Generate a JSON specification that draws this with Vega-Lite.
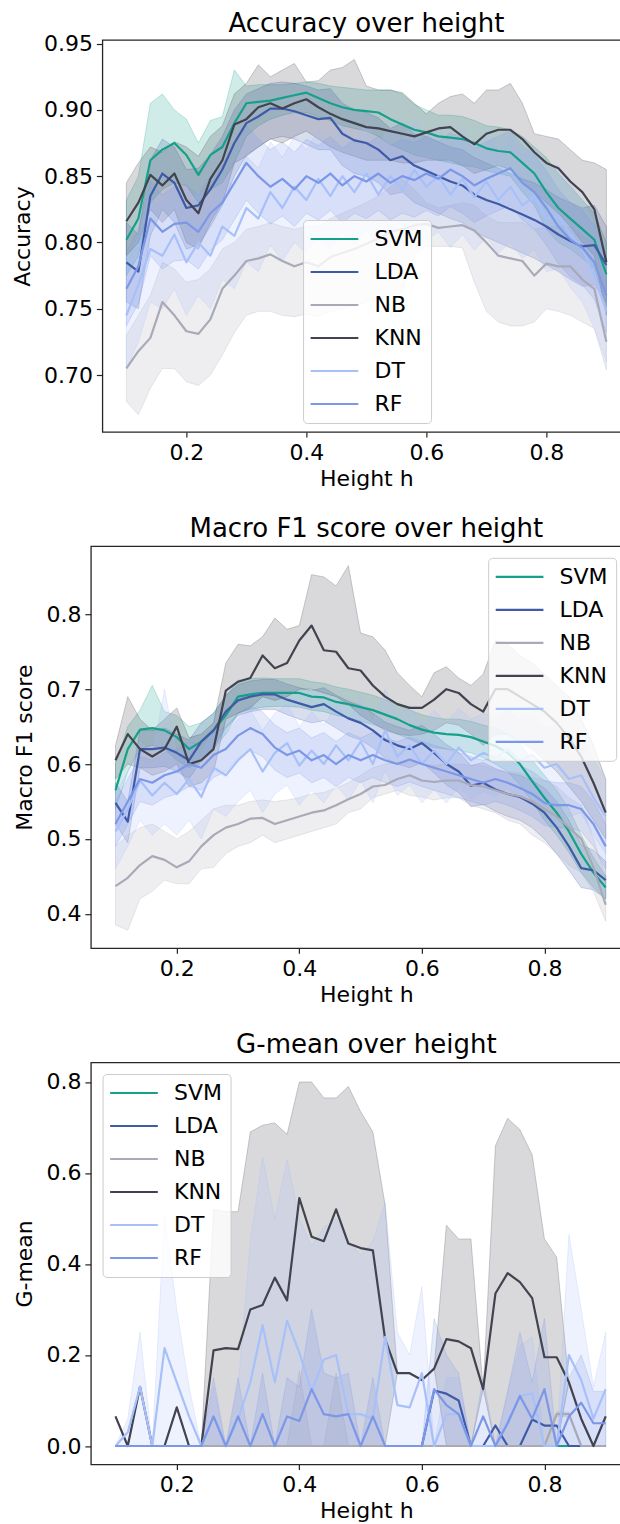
{
  "$schema": "https://vega.github.io/schema/vega-lite/v6.json",
  "background": "white",
  "padding": {"left": 10.7, "top": 10, "right": 0, "bottom": 0},
  "columns": 1,
  "center": true,
  "spacing": 24.2,
  "datasets": {
    "acc": [
      {"m":"SVM","h":0.1,"y":0.802,"l":0.775,"u":0.832},{"m":"SVM","h":0.12,"y":0.818,"l":0.790,"u":0.850},{"m":"SVM","h":0.14,"y":0.862,"l":0.830,"u":0.905},{"m":"SVM","h":0.16,"y":0.870,"l":0.840,"u":0.912},{"m":"SVM","h":0.18,"y":0.875,"l":0.845,"u":0.900},{"m":"SVM","h":0.2,"y":0.866,"l":0.843,"u":0.893},{"m":"SVM","h":0.22,"y":0.851,"l":0.830,"u":0.875},{"m":"SVM","h":0.24,"y":0.866,"l":0.840,"u":0.892},{"m":"SVM","h":0.26,"y":0.872,"l":0.845,"u":0.895},{"m":"SVM","h":0.28,"y":0.890,"l":0.860,"u":0.930},{"m":"SVM","h":0.3,"y":0.905,"l":0.880,"u":0.918},{"m":"SVM","h":0.32,"y":0.906,"l":0.888,"u":0.919},{"m":"SVM","h":0.34,"y":0.907,"l":0.893,"u":0.919},{"m":"SVM","h":0.36,"y":0.909,"l":0.896,"u":0.919},{"m":"SVM","h":0.38,"y":0.911,"l":0.898,"u":0.920},{"m":"SVM","h":0.4,"y":0.913,"l":0.898,"u":0.921},{"m":"SVM","h":0.42,"y":0.909,"l":0.895,"u":0.920},{"m":"SVM","h":0.44,"y":0.905,"l":0.892,"u":0.918},{"m":"SVM","h":0.46,"y":0.902,"l":0.888,"u":0.917},{"m":"SVM","h":0.48,"y":0.900,"l":0.886,"u":0.916},{"m":"SVM","h":0.5,"y":0.899,"l":0.884,"u":0.915},{"m":"SVM","h":0.52,"y":0.898,"l":0.880,"u":0.915},{"m":"SVM","h":0.54,"y":0.893,"l":0.874,"u":0.915},{"m":"SVM","h":0.56,"y":0.889,"l":0.870,"u":0.912},{"m":"SVM","h":0.58,"y":0.885,"l":0.866,"u":0.904},{"m":"SVM","h":0.6,"y":0.883,"l":0.864,"u":0.900},{"m":"SVM","h":0.62,"y":0.880,"l":0.862,"u":0.896},{"m":"SVM","h":0.64,"y":0.879,"l":0.860,"u":0.896},{"m":"SVM","h":0.66,"y":0.878,"l":0.858,"u":0.895},{"m":"SVM","h":0.68,"y":0.875,"l":0.857,"u":0.892},{"m":"SVM","h":0.7,"y":0.871,"l":0.854,"u":0.888},{"m":"SVM","h":0.72,"y":0.869,"l":0.852,"u":0.887},{"m":"SVM","h":0.74,"y":0.868,"l":0.850,"u":0.885},{"m":"SVM","h":0.76,"y":0.860,"l":0.838,"u":0.880},{"m":"SVM","h":0.78,"y":0.852,"l":0.828,"u":0.872},{"m":"SVM","h":0.8,"y":0.838,"l":0.810,"u":0.864},{"m":"SVM","h":0.82,"y":0.826,"l":0.800,"u":0.852},{"m":"SVM","h":0.84,"y":0.818,"l":0.795,"u":0.842},{"m":"SVM","h":0.86,"y":0.810,"l":0.788,"u":0.832},{"m":"SVM","h":0.88,"y":0.802,"l":0.780,"u":0.822},{"m":"SVM","h":0.9,"y":0.776,"l":0.752,"u":0.800},
      {"m":"LDA","h":0.1,"y":0.785,"l":0.755,"u":0.815},{"m":"LDA","h":0.12,"y":0.778,"l":0.750,"u":0.806},{"m":"LDA","h":0.14,"y":0.835,"l":0.805,"u":0.862},{"m":"LDA","h":0.16,"y":0.852,"l":0.825,"u":0.878},{"m":"LDA","h":0.18,"y":0.845,"l":0.815,"u":0.872},{"m":"LDA","h":0.2,"y":0.826,"l":0.795,"u":0.855},{"m":"LDA","h":0.22,"y":0.828,"l":0.798,"u":0.856},{"m":"LDA","h":0.24,"y":0.840,"l":0.812,"u":0.866},{"m":"LDA","h":0.26,"y":0.855,"l":0.828,"u":0.880},{"m":"LDA","h":0.28,"y":0.875,"l":0.850,"u":0.900},{"m":"LDA","h":0.3,"y":0.890,"l":0.866,"u":0.912},{"m":"LDA","h":0.32,"y":0.895,"l":0.872,"u":0.916},{"m":"LDA","h":0.34,"y":0.901,"l":0.878,"u":0.920},{"m":"LDA","h":0.36,"y":0.901,"l":0.880,"u":0.921},{"m":"LDA","h":0.38,"y":0.899,"l":0.878,"u":0.920},{"m":"LDA","h":0.4,"y":0.896,"l":0.874,"u":0.918},{"m":"LDA","h":0.42,"y":0.893,"l":0.870,"u":0.915},{"m":"LDA","h":0.44,"y":0.894,"l":0.870,"u":0.916},{"m":"LDA","h":0.46,"y":0.882,"l":0.858,"u":0.905},{"m":"LDA","h":0.48,"y":0.877,"l":0.852,"u":0.900},{"m":"LDA","h":0.5,"y":0.875,"l":0.850,"u":0.898},{"m":"LDA","h":0.52,"y":0.870,"l":0.845,"u":0.894},{"m":"LDA","h":0.54,"y":0.862,"l":0.836,"u":0.886},{"m":"LDA","h":0.56,"y":0.865,"l":0.838,"u":0.890},{"m":"LDA","h":0.58,"y":0.858,"l":0.830,"u":0.882},{"m":"LDA","h":0.6,"y":0.854,"l":0.826,"u":0.880},{"m":"LDA","h":0.62,"y":0.850,"l":0.822,"u":0.876},{"m":"LDA","h":0.64,"y":0.846,"l":0.818,"u":0.872},{"m":"LDA","h":0.66,"y":0.843,"l":0.815,"u":0.870},{"m":"LDA","h":0.68,"y":0.836,"l":0.808,"u":0.864},{"m":"LDA","h":0.7,"y":0.832,"l":0.804,"u":0.860},{"m":"LDA","h":0.72,"y":0.829,"l":0.800,"u":0.856},{"m":"LDA","h":0.74,"y":0.825,"l":0.796,"u":0.852},{"m":"LDA","h":0.76,"y":0.821,"l":0.792,"u":0.848},{"m":"LDA","h":0.78,"y":0.817,"l":0.788,"u":0.845},{"m":"LDA","h":0.8,"y":0.812,"l":0.783,"u":0.840},{"m":"LDA","h":0.82,"y":0.806,"l":0.778,"u":0.834},{"m":"LDA","h":0.84,"y":0.801,"l":0.772,"u":0.830},{"m":"LDA","h":0.86,"y":0.797,"l":0.767,"u":0.826},{"m":"LDA","h":0.88,"y":0.798,"l":0.768,"u":0.828},{"m":"LDA","h":0.9,"y":0.783,"l":0.755,"u":0.812},
      {"m":"NB","h":0.1,"y":0.705,"l":0.680,"u":0.730},{"m":"NB","h":0.12,"y":0.718,"l":0.670,"u":0.745},{"m":"NB","h":0.14,"y":0.728,"l":0.690,"u":0.760},{"m":"NB","h":0.16,"y":0.755,"l":0.705,"u":0.785},{"m":"NB","h":0.18,"y":0.745,"l":0.705,"u":0.780},{"m":"NB","h":0.2,"y":0.733,"l":0.695,"u":0.770},{"m":"NB","h":0.22,"y":0.731,"l":0.692,"u":0.772},{"m":"NB","h":0.24,"y":0.742,"l":0.700,"u":0.780},{"m":"NB","h":0.26,"y":0.765,"l":0.715,"u":0.795},{"m":"NB","h":0.28,"y":0.775,"l":0.732,"u":0.800},{"m":"NB","h":0.3,"y":0.786,"l":0.745,"u":0.810},{"m":"NB","h":0.32,"y":0.788,"l":0.748,"u":0.812},{"m":"NB","h":0.34,"y":0.791,"l":0.748,"u":0.815},{"m":"NB","h":0.36,"y":0.786,"l":0.745,"u":0.812},{"m":"NB","h":0.38,"y":0.782,"l":0.744,"u":0.810},{"m":"NB","h":0.4,"y":0.785,"l":0.746,"u":0.812},{"m":"NB","h":0.42,"y":0.782,"l":0.744,"u":0.812},{"m":"NB","h":0.44,"y":0.789,"l":0.748,"u":0.818},{"m":"NB","h":0.46,"y":0.792,"l":0.750,"u":0.822},{"m":"NB","h":0.48,"y":0.795,"l":0.752,"u":0.826},{"m":"NB","h":0.5,"y":0.799,"l":0.755,"u":0.830},{"m":"NB","h":0.52,"y":0.803,"l":0.757,"u":0.835},{"m":"NB","h":0.54,"y":0.808,"l":0.760,"u":0.842},{"m":"NB","h":0.56,"y":0.810,"l":0.762,"u":0.848},{"m":"NB","h":0.58,"y":0.813,"l":0.790,"u":0.840},{"m":"NB","h":0.6,"y":0.814,"l":0.797,"u":0.830},{"m":"NB","h":0.62,"y":0.811,"l":0.797,"u":0.826},{"m":"NB","h":0.64,"y":0.812,"l":0.797,"u":0.828},{"m":"NB","h":0.66,"y":0.813,"l":0.796,"u":0.830},{"m":"NB","h":0.68,"y":0.809,"l":0.770,"u":0.828},{"m":"NB","h":0.7,"y":0.800,"l":0.748,"u":0.820},{"m":"NB","h":0.72,"y":0.790,"l":0.740,"u":0.815},{"m":"NB","h":0.74,"y":0.788,"l":0.737,"u":0.815},{"m":"NB","h":0.76,"y":0.786,"l":0.737,"u":0.815},{"m":"NB","h":0.78,"y":0.775,"l":0.740,"u":0.810},{"m":"NB","h":0.8,"y":0.784,"l":0.750,"u":0.812},{"m":"NB","h":0.82,"y":0.782,"l":0.748,"u":0.812},{"m":"NB","h":0.84,"y":0.782,"l":0.745,"u":0.812},{"m":"NB","h":0.86,"y":0.772,"l":0.740,"u":0.805},{"m":"NB","h":0.88,"y":0.765,"l":0.735,"u":0.800},{"m":"NB","h":0.9,"y":0.725,"l":0.704,"u":0.765},
      {"m":"KNN","h":0.1,"y":0.816,"l":0.790,"u":0.845},{"m":"KNN","h":0.12,"y":0.830,"l":0.800,"u":0.860},{"m":"KNN","h":0.14,"y":0.851,"l":0.825,"u":0.872},{"m":"KNN","h":0.16,"y":0.843,"l":0.815,"u":0.868},{"m":"KNN","h":0.18,"y":0.852,"l":0.825,"u":0.876},{"m":"KNN","h":0.2,"y":0.832,"l":0.800,"u":0.872},{"m":"KNN","h":0.22,"y":0.822,"l":0.795,"u":0.865},{"m":"KNN","h":0.24,"y":0.848,"l":0.815,"u":0.880},{"m":"KNN","h":0.26,"y":0.862,"l":0.830,"u":0.888},{"m":"KNN","h":0.28,"y":0.889,"l":0.860,"u":0.912},{"m":"KNN","h":0.3,"y":0.893,"l":0.865,"u":0.920},{"m":"KNN","h":0.32,"y":0.902,"l":0.872,"u":0.934},{"m":"KNN","h":0.34,"y":0.905,"l":0.878,"u":0.925},{"m":"KNN","h":0.36,"y":0.901,"l":0.875,"u":0.930},{"m":"KNN","h":0.38,"y":0.905,"l":0.880,"u":0.935},{"m":"KNN","h":0.4,"y":0.908,"l":0.884,"u":0.921},{"m":"KNN","h":0.42,"y":0.902,"l":0.878,"u":0.922},{"m":"KNN","h":0.44,"y":0.897,"l":0.872,"u":0.930},{"m":"KNN","h":0.46,"y":0.893,"l":0.868,"u":0.932},{"m":"KNN","h":0.48,"y":0.890,"l":0.865,"u":0.938},{"m":"KNN","h":0.5,"y":0.887,"l":0.862,"u":0.918},{"m":"KNN","h":0.52,"y":0.886,"l":0.862,"u":0.915},{"m":"KNN","h":0.54,"y":0.884,"l":0.862,"u":0.915},{"m":"KNN","h":0.56,"y":0.882,"l":0.860,"u":0.913},{"m":"KNN","h":0.58,"y":0.880,"l":0.860,"u":0.905},{"m":"KNN","h":0.6,"y":0.883,"l":0.862,"u":0.897},{"m":"KNN","h":0.62,"y":0.886,"l":0.862,"u":0.905},{"m":"KNN","h":0.64,"y":0.887,"l":0.862,"u":0.910},{"m":"KNN","h":0.66,"y":0.880,"l":0.858,"u":0.912},{"m":"KNN","h":0.68,"y":0.874,"l":0.852,"u":0.905},{"m":"KNN","h":0.7,"y":0.882,"l":0.855,"u":0.915},{"m":"KNN","h":0.72,"y":0.885,"l":0.858,"u":0.915},{"m":"KNN","h":0.74,"y":0.885,"l":0.855,"u":0.920},{"m":"KNN","h":0.76,"y":0.878,"l":0.845,"u":0.905},{"m":"KNN","h":0.78,"y":0.868,"l":0.838,"u":0.882},{"m":"KNN","h":0.8,"y":0.860,"l":0.830,"u":0.880},{"m":"KNN","h":0.82,"y":0.856,"l":0.822,"u":0.878},{"m":"KNN","h":0.84,"y":0.846,"l":0.812,"u":0.870},{"m":"KNN","h":0.86,"y":0.838,"l":0.800,"u":0.862},{"m":"KNN","h":0.88,"y":0.825,"l":0.790,"u":0.860},{"m":"KNN","h":0.9,"y":0.785,"l":0.745,"u":0.855},
      {"m":"DT","h":0.1,"y":0.745,"l":0.705,"u":0.780},{"m":"DT","h":0.12,"y":0.768,"l":0.725,"u":0.805},{"m":"DT","h":0.14,"y":0.795,"l":0.755,"u":0.832},{"m":"DT","h":0.16,"y":0.790,"l":0.750,"u":0.828},{"m":"DT","h":0.18,"y":0.806,"l":0.765,"u":0.845},{"m":"DT","h":0.2,"y":0.785,"l":0.745,"u":0.822},{"m":"DT","h":0.22,"y":0.800,"l":0.760,"u":0.838},{"m":"DT","h":0.24,"y":0.790,"l":0.750,"u":0.828},{"m":"DT","h":0.26,"y":0.812,"l":0.772,"u":0.850},{"m":"DT","h":0.28,"y":0.805,"l":0.765,"u":0.842},{"m":"DT","h":0.3,"y":0.826,"l":0.785,"u":0.865},{"m":"DT","h":0.32,"y":0.818,"l":0.778,"u":0.856},{"m":"DT","h":0.34,"y":0.838,"l":0.798,"u":0.876},{"m":"DT","h":0.36,"y":0.826,"l":0.786,"u":0.864},{"m":"DT","h":0.38,"y":0.842,"l":0.800,"u":0.880},{"m":"DT","h":0.4,"y":0.832,"l":0.792,"u":0.870},{"m":"DT","h":0.42,"y":0.848,"l":0.806,"u":0.885},{"m":"DT","h":0.44,"y":0.835,"l":0.795,"u":0.873},{"m":"DT","h":0.46,"y":0.850,"l":0.808,"u":0.888},{"m":"DT","h":0.48,"y":0.838,"l":0.798,"u":0.876},{"m":"DT","h":0.5,"y":0.852,"l":0.810,"u":0.890},{"m":"DT","h":0.52,"y":0.836,"l":0.796,"u":0.874},{"m":"DT","h":0.54,"y":0.850,"l":0.808,"u":0.888},{"m":"DT","h":0.56,"y":0.840,"l":0.800,"u":0.878},{"m":"DT","h":0.58,"y":0.855,"l":0.812,"u":0.892},{"m":"DT","h":0.6,"y":0.842,"l":0.802,"u":0.880},{"m":"DT","h":0.62,"y":0.850,"l":0.808,"u":0.888},{"m":"DT","h":0.64,"y":0.836,"l":0.796,"u":0.874},{"m":"DT","h":0.66,"y":0.848,"l":0.806,"u":0.886},{"m":"DT","h":0.68,"y":0.834,"l":0.794,"u":0.872},{"m":"DT","h":0.7,"y":0.846,"l":0.804,"u":0.884},{"m":"DT","h":0.72,"y":0.832,"l":0.792,"u":0.870},{"m":"DT","h":0.74,"y":0.842,"l":0.800,"u":0.880},{"m":"DT","h":0.76,"y":0.828,"l":0.788,"u":0.866},{"m":"DT","h":0.78,"y":0.835,"l":0.795,"u":0.872},{"m":"DT","h":0.8,"y":0.818,"l":0.778,"u":0.856},{"m":"DT","h":0.82,"y":0.820,"l":0.780,"u":0.858},{"m":"DT","h":0.84,"y":0.806,"l":0.766,"u":0.844},{"m":"DT","h":0.86,"y":0.795,"l":0.755,"u":0.832},{"m":"DT","h":0.88,"y":0.775,"l":0.735,"u":0.812},{"m":"DT","h":0.9,"y":0.748,"l":0.710,"u":0.786},
      {"m":"RF","h":0.1,"y":0.765,"l":0.737,"u":0.793},{"m":"RF","h":0.12,"y":0.782,"l":0.754,"u":0.810},{"m":"RF","h":0.14,"y":0.818,"l":0.790,"u":0.846},{"m":"RF","h":0.16,"y":0.808,"l":0.780,"u":0.836},{"m":"RF","h":0.18,"y":0.814,"l":0.786,"u":0.842},{"m":"RF","h":0.2,"y":0.815,"l":0.787,"u":0.843},{"m":"RF","h":0.22,"y":0.808,"l":0.780,"u":0.836},{"m":"RF","h":0.24,"y":0.822,"l":0.794,"u":0.850},{"m":"RF","h":0.26,"y":0.830,"l":0.802,"u":0.858},{"m":"RF","h":0.28,"y":0.845,"l":0.817,"u":0.873},{"m":"RF","h":0.3,"y":0.860,"l":0.832,"u":0.888},{"m":"RF","h":0.32,"y":0.850,"l":0.822,"u":0.878},{"m":"RF","h":0.34,"y":0.842,"l":0.814,"u":0.870},{"m":"RF","h":0.36,"y":0.848,"l":0.820,"u":0.876},{"m":"RF","h":0.38,"y":0.840,"l":0.812,"u":0.868},{"m":"RF","h":0.4,"y":0.850,"l":0.822,"u":0.878},{"m":"RF","h":0.42,"y":0.845,"l":0.817,"u":0.873},{"m":"RF","h":0.44,"y":0.852,"l":0.824,"u":0.880},{"m":"RF","h":0.46,"y":0.843,"l":0.815,"u":0.871},{"m":"RF","h":0.48,"y":0.850,"l":0.822,"u":0.878},{"m":"RF","h":0.5,"y":0.846,"l":0.818,"u":0.874},{"m":"RF","h":0.52,"y":0.852,"l":0.824,"u":0.880},{"m":"RF","h":0.54,"y":0.845,"l":0.817,"u":0.873},{"m":"RF","h":0.56,"y":0.850,"l":0.822,"u":0.878},{"m":"RF","h":0.58,"y":0.847,"l":0.819,"u":0.875},{"m":"RF","h":0.6,"y":0.852,"l":0.824,"u":0.880},{"m":"RF","h":0.62,"y":0.848,"l":0.820,"u":0.876},{"m":"RF","h":0.64,"y":0.855,"l":0.827,"u":0.883},{"m":"RF","h":0.66,"y":0.850,"l":0.822,"u":0.878},{"m":"RF","h":0.68,"y":0.843,"l":0.815,"u":0.871},{"m":"RF","h":0.7,"y":0.848,"l":0.820,"u":0.876},{"m":"RF","h":0.72,"y":0.852,"l":0.824,"u":0.880},{"m":"RF","h":0.74,"y":0.856,"l":0.828,"u":0.884},{"m":"RF","h":0.76,"y":0.845,"l":0.817,"u":0.873},{"m":"RF","h":0.78,"y":0.838,"l":0.810,"u":0.866},{"m":"RF","h":0.8,"y":0.826,"l":0.798,"u":0.854},{"m":"RF","h":0.82,"y":0.812,"l":0.784,"u":0.840},{"m":"RF","h":0.84,"y":0.802,"l":0.774,"u":0.830},{"m":"RF","h":0.86,"y":0.796,"l":0.768,"u":0.824},{"m":"RF","h":0.88,"y":0.785,"l":0.757,"u":0.813},{"m":"RF","h":0.9,"y":0.760,"l":0.732,"u":0.788}
    ],
    "f1": [
      {"m":"SVM","h":0.1,"y":0.565,"l":0.540,"u":0.600},{"m":"SVM","h":0.12,"y":0.620,"l":0.590,"u":0.650},{"m":"SVM","h":0.14,"y":0.646,"l":0.620,"u":0.672},{"m":"SVM","h":0.16,"y":0.648,"l":0.625,"u":0.705},{"m":"SVM","h":0.18,"y":0.645,"l":0.620,"u":0.670},{"m":"SVM","h":0.2,"y":0.636,"l":0.605,"u":0.665},{"m":"SVM","h":0.22,"y":0.620,"l":0.595,"u":0.650},{"m":"SVM","h":0.24,"y":0.630,"l":0.605,"u":0.655},{"m":"SVM","h":0.26,"y":0.645,"l":0.620,"u":0.668},{"m":"SVM","h":0.28,"y":0.665,"l":0.640,"u":0.690},{"m":"SVM","h":0.3,"y":0.690,"l":0.668,"u":0.712},{"m":"SVM","h":0.32,"y":0.693,"l":0.673,"u":0.714},{"m":"SVM","h":0.34,"y":0.695,"l":0.676,"u":0.715},{"m":"SVM","h":0.36,"y":0.695,"l":0.677,"u":0.714},{"m":"SVM","h":0.38,"y":0.695,"l":0.677,"u":0.714},{"m":"SVM","h":0.4,"y":0.695,"l":0.676,"u":0.714},{"m":"SVM","h":0.42,"y":0.690,"l":0.672,"u":0.710},{"m":"SVM","h":0.44,"y":0.689,"l":0.670,"u":0.708},{"m":"SVM","h":0.46,"y":0.683,"l":0.665,"u":0.703},{"m":"SVM","h":0.48,"y":0.680,"l":0.662,"u":0.700},{"m":"SVM","h":0.5,"y":0.676,"l":0.657,"u":0.696},{"m":"SVM","h":0.52,"y":0.672,"l":0.653,"u":0.692},{"m":"SVM","h":0.54,"y":0.666,"l":0.647,"u":0.686},{"m":"SVM","h":0.56,"y":0.660,"l":0.640,"u":0.680},{"m":"SVM","h":0.58,"y":0.652,"l":0.633,"u":0.672},{"m":"SVM","h":0.6,"y":0.646,"l":0.626,"u":0.666},{"m":"SVM","h":0.62,"y":0.642,"l":0.622,"u":0.662},{"m":"SVM","h":0.64,"y":0.640,"l":0.620,"u":0.660},{"m":"SVM","h":0.66,"y":0.639,"l":0.618,"u":0.660},{"m":"SVM","h":0.68,"y":0.636,"l":0.615,"u":0.657},{"m":"SVM","h":0.7,"y":0.630,"l":0.608,"u":0.652},{"m":"SVM","h":0.72,"y":0.624,"l":0.600,"u":0.648},{"m":"SVM","h":0.74,"y":0.615,"l":0.590,"u":0.640},{"m":"SVM","h":0.76,"y":0.600,"l":0.572,"u":0.628},{"m":"SVM","h":0.78,"y":0.577,"l":0.550,"u":0.605},{"m":"SVM","h":0.8,"y":0.555,"l":0.525,"u":0.585},{"m":"SVM","h":0.82,"y":0.535,"l":0.505,"u":0.565},{"m":"SVM","h":0.84,"y":0.510,"l":0.482,"u":0.540},{"m":"SVM","h":0.86,"y":0.480,"l":0.455,"u":0.505},{"m":"SVM","h":0.88,"y":0.455,"l":0.435,"u":0.475},{"m":"SVM","h":0.9,"y":0.435,"l":0.420,"u":0.450},
      {"m":"LDA","h":0.1,"y":0.548,"l":0.520,"u":0.575},{"m":"LDA","h":0.12,"y":0.523,"l":0.495,"u":0.550},{"m":"LDA","h":0.14,"y":0.620,"l":0.595,"u":0.645},{"m":"LDA","h":0.16,"y":0.620,"l":0.595,"u":0.645},{"m":"LDA","h":0.18,"y":0.622,"l":0.597,"u":0.648},{"m":"LDA","h":0.2,"y":0.615,"l":0.590,"u":0.640},{"m":"LDA","h":0.22,"y":0.605,"l":0.580,"u":0.632},{"m":"LDA","h":0.24,"y":0.630,"l":0.605,"u":0.655},{"m":"LDA","h":0.26,"y":0.645,"l":0.622,"u":0.668},{"m":"LDA","h":0.28,"y":0.670,"l":0.648,"u":0.692},{"m":"LDA","h":0.3,"y":0.685,"l":0.665,"u":0.706},{"m":"LDA","h":0.32,"y":0.690,"l":0.670,"u":0.711},{"m":"LDA","h":0.34,"y":0.693,"l":0.673,"u":0.713},{"m":"LDA","h":0.36,"y":0.693,"l":0.673,"u":0.713},{"m":"LDA","h":0.38,"y":0.686,"l":0.666,"u":0.707},{"m":"LDA","h":0.4,"y":0.681,"l":0.660,"u":0.702},{"m":"LDA","h":0.42,"y":0.676,"l":0.655,"u":0.698},{"m":"LDA","h":0.44,"y":0.680,"l":0.658,"u":0.702},{"m":"LDA","h":0.46,"y":0.670,"l":0.648,"u":0.692},{"m":"LDA","h":0.48,"y":0.661,"l":0.638,"u":0.684},{"m":"LDA","h":0.5,"y":0.655,"l":0.632,"u":0.678},{"m":"LDA","h":0.52,"y":0.645,"l":0.622,"u":0.668},{"m":"LDA","h":0.54,"y":0.632,"l":0.608,"u":0.656},{"m":"LDA","h":0.56,"y":0.625,"l":0.600,"u":0.650},{"m":"LDA","h":0.58,"y":0.620,"l":0.595,"u":0.645},{"m":"LDA","h":0.6,"y":0.628,"l":0.602,"u":0.652},{"m":"LDA","h":0.62,"y":0.615,"l":0.588,"u":0.640},{"m":"LDA","h":0.64,"y":0.600,"l":0.572,"u":0.626},{"m":"LDA","h":0.66,"y":0.590,"l":0.562,"u":0.616},{"m":"LDA","h":0.68,"y":0.571,"l":0.543,"u":0.598},{"m":"LDA","h":0.7,"y":0.575,"l":0.546,"u":0.602},{"m":"LDA","h":0.72,"y":0.566,"l":0.537,"u":0.594},{"m":"LDA","h":0.74,"y":0.560,"l":0.530,"u":0.588},{"m":"LDA","h":0.76,"y":0.556,"l":0.525,"u":0.585},{"m":"LDA","h":0.78,"y":0.547,"l":0.515,"u":0.578},{"m":"LDA","h":0.8,"y":0.535,"l":0.500,"u":0.568},{"m":"LDA","h":0.82,"y":0.515,"l":0.480,"u":0.550},{"m":"LDA","h":0.84,"y":0.490,"l":0.458,"u":0.525},{"m":"LDA","h":0.86,"y":0.461,"l":0.435,"u":0.492},{"m":"LDA","h":0.88,"y":0.458,"l":0.432,"u":0.485},{"m":"LDA","h":0.9,"y":0.445,"l":0.420,"u":0.470},
      {"m":"NB","h":0.1,"y":0.437,"l":0.385,"u":0.490},{"m":"NB","h":0.12,"y":0.448,"l":0.378,"u":0.505},{"m":"NB","h":0.14,"y":0.465,"l":0.420,"u":0.515},{"m":"NB","h":0.16,"y":0.477,"l":0.430,"u":0.520},{"m":"NB","h":0.18,"y":0.472,"l":0.445,"u":0.510},{"m":"NB","h":0.2,"y":0.462,"l":0.440,"u":0.500},{"m":"NB","h":0.22,"y":0.470,"l":0.440,"u":0.510},{"m":"NB","h":0.24,"y":0.490,"l":0.460,"u":0.525},{"m":"NB","h":0.26,"y":0.505,"l":0.462,"u":0.540},{"m":"NB","h":0.28,"y":0.515,"l":0.480,"u":0.545},{"m":"NB","h":0.3,"y":0.520,"l":0.490,"u":0.545},{"m":"NB","h":0.32,"y":0.527,"l":0.495,"u":0.550},{"m":"NB","h":0.34,"y":0.528,"l":0.505,"u":0.552},{"m":"NB","h":0.36,"y":0.520,"l":0.495,"u":0.550},{"m":"NB","h":0.38,"y":0.525,"l":0.500,"u":0.552},{"m":"NB","h":0.4,"y":0.530,"l":0.505,"u":0.555},{"m":"NB","h":0.42,"y":0.535,"l":0.510,"u":0.560},{"m":"NB","h":0.44,"y":0.538,"l":0.515,"u":0.562},{"m":"NB","h":0.46,"y":0.545,"l":0.520,"u":0.568},{"m":"NB","h":0.48,"y":0.553,"l":0.535,"u":0.575},{"m":"NB","h":0.5,"y":0.560,"l":0.540,"u":0.585},{"m":"NB","h":0.52,"y":0.570,"l":0.555,"u":0.595},{"m":"NB","h":0.54,"y":0.572,"l":0.560,"u":0.600},{"m":"NB","h":0.56,"y":0.580,"l":0.565,"u":0.602},{"m":"NB","h":0.58,"y":0.585,"l":0.558,"u":0.605},{"m":"NB","h":0.6,"y":0.578,"l":0.556,"u":0.600},{"m":"NB","h":0.62,"y":0.576,"l":0.552,"u":0.598},{"m":"NB","h":0.64,"y":0.578,"l":0.555,"u":0.600},{"m":"NB","h":0.66,"y":0.578,"l":0.555,"u":0.600},{"m":"NB","h":0.68,"y":0.572,"l":0.545,"u":0.598},{"m":"NB","h":0.7,"y":0.570,"l":0.540,"u":0.598},{"m":"NB","h":0.72,"y":0.565,"l":0.535,"u":0.592},{"m":"NB","h":0.74,"y":0.560,"l":0.525,"u":0.590},{"m":"NB","h":0.76,"y":0.557,"l":0.520,"u":0.588},{"m":"NB","h":0.78,"y":0.550,"l":0.505,"u":0.582},{"m":"NB","h":0.8,"y":0.540,"l":0.495,"u":0.578},{"m":"NB","h":0.82,"y":0.530,"l":0.480,"u":0.570},{"m":"NB","h":0.84,"y":0.515,"l":0.465,"u":0.555},{"m":"NB","h":0.86,"y":0.500,"l":0.455,"u":0.545},{"m":"NB","h":0.88,"y":0.462,"l":0.430,"u":0.500},{"m":"NB","h":0.9,"y":0.412,"l":0.390,"u":0.450},
      {"m":"KNN","h":0.1,"y":0.605,"l":0.580,"u":0.625},{"m":"KNN","h":0.12,"y":0.640,"l":0.600,"u":0.690},{"m":"KNN","h":0.14,"y":0.620,"l":0.595,"u":0.660},{"m":"KNN","h":0.16,"y":0.610,"l":0.585,"u":0.645},{"m":"KNN","h":0.18,"y":0.620,"l":0.590,"u":0.660},{"m":"KNN","h":0.2,"y":0.650,"l":0.600,"u":0.675},{"m":"KNN","h":0.22,"y":0.600,"l":0.570,"u":0.635},{"m":"KNN","h":0.24,"y":0.605,"l":0.575,"u":0.640},{"m":"KNN","h":0.26,"y":0.620,"l":0.590,"u":0.655},{"m":"KNN","h":0.28,"y":0.698,"l":0.660,"u":0.735},{"m":"KNN","h":0.3,"y":0.710,"l":0.668,"u":0.760},{"m":"KNN","h":0.32,"y":0.715,"l":0.675,"u":0.758},{"m":"KNN","h":0.34,"y":0.745,"l":0.690,"u":0.770},{"m":"KNN","h":0.36,"y":0.728,"l":0.685,"u":0.795},{"m":"KNN","h":0.38,"y":0.735,"l":0.690,"u":0.780},{"m":"KNN","h":0.4,"y":0.765,"l":0.700,"u":0.785},{"m":"KNN","h":0.42,"y":0.785,"l":0.700,"u":0.853},{"m":"KNN","h":0.44,"y":0.752,"l":0.695,"u":0.850},{"m":"KNN","h":0.46,"y":0.750,"l":0.690,"u":0.838},{"m":"KNN","h":0.48,"y":0.728,"l":0.680,"u":0.865},{"m":"KNN","h":0.5,"y":0.725,"l":0.665,"u":0.775},{"m":"KNN","h":0.52,"y":0.705,"l":0.655,"u":0.770},{"m":"KNN","h":0.54,"y":0.690,"l":0.645,"u":0.752},{"m":"KNN","h":0.56,"y":0.680,"l":0.640,"u":0.722},{"m":"KNN","h":0.58,"y":0.675,"l":0.638,"u":0.705},{"m":"KNN","h":0.6,"y":0.675,"l":0.640,"u":0.690},{"m":"KNN","h":0.62,"y":0.686,"l":0.645,"u":0.722},{"m":"KNN","h":0.64,"y":0.700,"l":0.655,"u":0.730},{"m":"KNN","h":0.66,"y":0.695,"l":0.652,"u":0.715},{"m":"KNN","h":0.68,"y":0.680,"l":0.640,"u":0.705},{"m":"KNN","h":0.7,"y":0.670,"l":0.625,"u":0.720},{"m":"KNN","h":0.72,"y":0.700,"l":0.640,"u":0.765},{"m":"KNN","h":0.74,"y":0.700,"l":0.640,"u":0.760},{"m":"KNN","h":0.76,"y":0.690,"l":0.630,"u":0.745},{"m":"KNN","h":0.78,"y":0.680,"l":0.620,"u":0.735},{"m":"KNN","h":0.8,"y":0.670,"l":0.605,"u":0.720},{"m":"KNN","h":0.82,"y":0.655,"l":0.590,"u":0.705},{"m":"KNN","h":0.84,"y":0.635,"l":0.570,"u":0.690},{"m":"KNN","h":0.86,"y":0.610,"l":0.550,"u":0.660},{"m":"KNN","h":0.88,"y":0.575,"l":0.525,"u":0.625},{"m":"KNN","h":0.9,"y":0.535,"l":0.500,"u":0.580},
      {"m":"DT","h":0.1,"y":0.510,"l":0.460,"u":0.560},{"m":"DT","h":0.12,"y":0.540,"l":0.490,"u":0.590},{"m":"DT","h":0.14,"y":0.578,"l":0.525,"u":0.630},{"m":"DT","h":0.16,"y":0.558,"l":0.505,"u":0.610},{"m":"DT","h":0.18,"y":0.575,"l":0.520,"u":0.700},{"m":"DT","h":0.2,"y":0.560,"l":0.505,"u":0.612},{"m":"DT","h":0.22,"y":0.580,"l":0.525,"u":0.632},{"m":"DT","h":0.24,"y":0.556,"l":0.500,"u":0.610},{"m":"DT","h":0.26,"y":0.595,"l":0.540,"u":0.648},{"m":"DT","h":0.28,"y":0.585,"l":0.530,"u":0.640},{"m":"DT","h":0.3,"y":0.605,"l":0.550,"u":0.660},{"m":"DT","h":0.32,"y":0.620,"l":0.565,"u":0.672},{"m":"DT","h":0.34,"y":0.590,"l":0.535,"u":0.645},{"m":"DT","h":0.36,"y":0.615,"l":0.560,"u":0.668},{"m":"DT","h":0.38,"y":0.628,"l":0.572,"u":0.680},{"m":"DT","h":0.4,"y":0.598,"l":0.545,"u":0.650},{"m":"DT","h":0.42,"y":0.618,"l":0.565,"u":0.670},{"m":"DT","h":0.44,"y":0.600,"l":0.548,"u":0.652},{"m":"DT","h":0.46,"y":0.625,"l":0.572,"u":0.678},{"m":"DT","h":0.48,"y":0.605,"l":0.552,"u":0.658},{"m":"DT","h":0.5,"y":0.630,"l":0.578,"u":0.690},{"m":"DT","h":0.52,"y":0.600,"l":0.548,"u":0.655},{"m":"DT","h":0.54,"y":0.645,"l":0.592,"u":0.700},{"m":"DT","h":0.56,"y":0.610,"l":0.558,"u":0.665},{"m":"DT","h":0.58,"y":0.625,"l":0.572,"u":0.678},{"m":"DT","h":0.6,"y":0.600,"l":0.548,"u":0.655},{"m":"DT","h":0.62,"y":0.618,"l":0.566,"u":0.672},{"m":"DT","h":0.64,"y":0.600,"l":0.548,"u":0.655},{"m":"DT","h":0.66,"y":0.622,"l":0.570,"u":0.675},{"m":"DT","h":0.68,"y":0.605,"l":0.553,"u":0.660},{"m":"DT","h":0.7,"y":0.615,"l":0.563,"u":0.668},{"m":"DT","h":0.72,"y":0.608,"l":0.556,"u":0.662},{"m":"DT","h":0.74,"y":0.620,"l":0.568,"u":0.672},{"m":"DT","h":0.76,"y":0.605,"l":0.553,"u":0.660},{"m":"DT","h":0.78,"y":0.612,"l":0.560,"u":0.665},{"m":"DT","h":0.8,"y":0.595,"l":0.545,"u":0.648},{"m":"DT","h":0.82,"y":0.600,"l":0.550,"u":0.652},{"m":"DT","h":0.84,"y":0.580,"l":0.530,"u":0.632},{"m":"DT","h":0.86,"y":0.585,"l":0.535,"u":0.636},{"m":"DT","h":0.88,"y":0.555,"l":0.505,"u":0.605},{"m":"DT","h":0.9,"y":0.530,"l":0.480,"u":0.580},
      {"m":"RF","h":0.1,"y":0.520,"l":0.490,"u":0.550},{"m":"RF","h":0.12,"y":0.550,"l":0.520,"u":0.580},{"m":"RF","h":0.14,"y":0.580,"l":0.550,"u":0.610},{"m":"RF","h":0.16,"y":0.575,"l":0.545,"u":0.605},{"m":"RF","h":0.18,"y":0.585,"l":0.555,"u":0.615},{"m":"RF","h":0.2,"y":0.590,"l":0.560,"u":0.620},{"m":"RF","h":0.22,"y":0.600,"l":0.570,"u":0.630},{"m":"RF","h":0.24,"y":0.595,"l":0.565,"u":0.625},{"m":"RF","h":0.26,"y":0.612,"l":0.582,"u":0.642},{"m":"RF","h":0.28,"y":0.620,"l":0.590,"u":0.650},{"m":"RF","h":0.3,"y":0.638,"l":0.608,"u":0.668},{"m":"RF","h":0.32,"y":0.648,"l":0.618,"u":0.678},{"m":"RF","h":0.34,"y":0.640,"l":0.610,"u":0.670},{"m":"RF","h":0.36,"y":0.622,"l":0.592,"u":0.652},{"m":"RF","h":0.38,"y":0.612,"l":0.582,"u":0.642},{"m":"RF","h":0.4,"y":0.618,"l":0.588,"u":0.648},{"m":"RF","h":0.42,"y":0.605,"l":0.575,"u":0.635},{"m":"RF","h":0.44,"y":0.612,"l":0.582,"u":0.642},{"m":"RF","h":0.46,"y":0.600,"l":0.570,"u":0.630},{"m":"RF","h":0.48,"y":0.612,"l":0.582,"u":0.642},{"m":"RF","h":0.5,"y":0.605,"l":0.575,"u":0.635},{"m":"RF","h":0.52,"y":0.612,"l":0.582,"u":0.642},{"m":"RF","h":0.54,"y":0.605,"l":0.575,"u":0.635},{"m":"RF","h":0.56,"y":0.600,"l":0.570,"u":0.630},{"m":"RF","h":0.58,"y":0.606,"l":0.576,"u":0.636},{"m":"RF","h":0.6,"y":0.600,"l":0.570,"u":0.630},{"m":"RF","h":0.62,"y":0.595,"l":0.565,"u":0.625},{"m":"RF","h":0.64,"y":0.590,"l":0.560,"u":0.620},{"m":"RF","h":0.66,"y":0.585,"l":0.555,"u":0.615},{"m":"RF","h":0.68,"y":0.580,"l":0.550,"u":0.610},{"m":"RF","h":0.7,"y":0.575,"l":0.545,"u":0.605},{"m":"RF","h":0.72,"y":0.580,"l":0.550,"u":0.610},{"m":"RF","h":0.74,"y":0.575,"l":0.545,"u":0.605},{"m":"RF","h":0.76,"y":0.568,"l":0.538,"u":0.598},{"m":"RF","h":0.78,"y":0.560,"l":0.530,"u":0.590},{"m":"RF","h":0.8,"y":0.548,"l":0.518,"u":0.578},{"m":"RF","h":0.82,"y":0.545,"l":0.515,"u":0.575},{"m":"RF","h":0.84,"y":0.545,"l":0.515,"u":0.575},{"m":"RF","h":0.86,"y":0.540,"l":0.510,"u":0.570},{"m":"RF","h":0.88,"y":0.520,"l":0.490,"u":0.550},{"m":"RF","h":0.9,"y":0.490,"l":0.460,"u":0.520}
    ],
    "gm": [
      {"m":"SVM","h":0.1,"y":0,"l":0,"u":0},{"m":"SVM","h":0.12,"y":0,"l":0,"u":0},{"m":"SVM","h":0.14,"y":0,"l":0,"u":0},{"m":"SVM","h":0.16,"y":0,"l":0,"u":0},{"m":"SVM","h":0.18,"y":0,"l":0,"u":0},{"m":"SVM","h":0.2,"y":0,"l":0,"u":0},{"m":"SVM","h":0.22,"y":0,"l":0,"u":0},{"m":"SVM","h":0.24,"y":0,"l":0,"u":0},{"m":"SVM","h":0.26,"y":0,"l":0,"u":0},{"m":"SVM","h":0.28,"y":0,"l":0,"u":0},{"m":"SVM","h":0.3,"y":0,"l":0,"u":0},{"m":"SVM","h":0.32,"y":0,"l":0,"u":0},{"m":"SVM","h":0.34,"y":0,"l":0,"u":0},{"m":"SVM","h":0.36,"y":0,"l":0,"u":0},{"m":"SVM","h":0.38,"y":0,"l":0,"u":0},{"m":"SVM","h":0.4,"y":0,"l":0,"u":0},{"m":"SVM","h":0.42,"y":0,"l":0,"u":0},{"m":"SVM","h":0.44,"y":0,"l":0,"u":0},{"m":"SVM","h":0.46,"y":0,"l":0,"u":0},{"m":"SVM","h":0.48,"y":0,"l":0,"u":0},{"m":"SVM","h":0.5,"y":0,"l":0,"u":0},{"m":"SVM","h":0.52,"y":0,"l":0,"u":0},{"m":"SVM","h":0.54,"y":0,"l":0,"u":0},{"m":"SVM","h":0.56,"y":0,"l":0,"u":0},{"m":"SVM","h":0.58,"y":0,"l":0,"u":0},{"m":"SVM","h":0.6,"y":0,"l":0,"u":0},{"m":"SVM","h":0.62,"y":0,"l":0,"u":0},{"m":"SVM","h":0.64,"y":0,"l":0,"u":0},{"m":"SVM","h":0.66,"y":0,"l":0,"u":0},{"m":"SVM","h":0.68,"y":0,"l":0,"u":0},{"m":"SVM","h":0.7,"y":0,"l":0,"u":0},{"m":"SVM","h":0.72,"y":0,"l":0,"u":0},{"m":"SVM","h":0.74,"y":0,"l":0,"u":0},{"m":"SVM","h":0.76,"y":0,"l":0,"u":0},{"m":"SVM","h":0.78,"y":0,"l":0,"u":0},{"m":"SVM","h":0.8,"y":0,"l":0,"u":0},{"m":"SVM","h":0.82,"y":0,"l":0,"u":0},{"m":"SVM","h":0.84,"y":0,"l":0,"u":0},{"m":"SVM","h":0.86,"y":0,"l":0,"u":0},{"m":"SVM","h":0.88,"y":0,"l":0,"u":0},{"m":"SVM","h":0.9,"y":0,"l":0,"u":0},
      {"m":"LDA","h":0.1,"y":0,"l":0,"u":0},{"m":"LDA","h":0.12,"y":0,"l":0,"u":0},{"m":"LDA","h":0.14,"y":0,"l":0,"u":0},{"m":"LDA","h":0.16,"y":0,"l":0,"u":0},{"m":"LDA","h":0.18,"y":0,"l":0,"u":0},{"m":"LDA","h":0.2,"y":0,"l":0,"u":0},{"m":"LDA","h":0.22,"y":0,"l":0,"u":0},{"m":"LDA","h":0.24,"y":0,"l":0,"u":0},{"m":"LDA","h":0.26,"y":0,"l":0,"u":0},{"m":"LDA","h":0.28,"y":0,"l":0,"u":0},{"m":"LDA","h":0.3,"y":0,"l":0,"u":0},{"m":"LDA","h":0.32,"y":0,"l":0,"u":0},{"m":"LDA","h":0.34,"y":0,"l":0,"u":0},{"m":"LDA","h":0.36,"y":0,"l":0,"u":0},{"m":"LDA","h":0.38,"y":0,"l":0,"u":0},{"m":"LDA","h":0.4,"y":0,"l":0,"u":0},{"m":"LDA","h":0.42,"y":0,"l":0,"u":0},{"m":"LDA","h":0.44,"y":0,"l":0,"u":0},{"m":"LDA","h":0.46,"y":0,"l":0,"u":0},{"m":"LDA","h":0.48,"y":0,"l":0,"u":0},{"m":"LDA","h":0.5,"y":0,"l":0,"u":0},{"m":"LDA","h":0.52,"y":0,"l":0,"u":0},{"m":"LDA","h":0.54,"y":0,"l":0,"u":0},{"m":"LDA","h":0.56,"y":0,"l":0,"u":0},{"m":"LDA","h":0.58,"y":0,"l":0,"u":0},{"m":"LDA","h":0.6,"y":0,"l":0,"u":0},{"m":"LDA","h":0.62,"y":0.122,"l":0.122,"u":0.122},{"m":"LDA","h":0.64,"y":0.115,"l":0.115,"u":0.115},{"m":"LDA","h":0.66,"y":0.100,"l":0.100,"u":0.100},{"m":"LDA","h":0.68,"y":0,"l":0,"u":0},{"m":"LDA","h":0.7,"y":0,"l":0,"u":0},{"m":"LDA","h":0.72,"y":0.045,"l":0.045,"u":0.045},{"m":"LDA","h":0.74,"y":0,"l":0,"u":0},{"m":"LDA","h":0.76,"y":0,"l":0,"u":0},{"m":"LDA","h":0.78,"y":0.058,"l":0.058,"u":0.058},{"m":"LDA","h":0.8,"y":0.045,"l":0.045,"u":0.045},{"m":"LDA","h":0.82,"y":0.045,"l":0.045,"u":0.045},{"m":"LDA","h":0.84,"y":0,"l":0,"u":0},{"m":"LDA","h":0.86,"y":0,"l":0,"u":0},{"m":"LDA","h":0.88,"y":0,"l":0,"u":0},{"m":"LDA","h":0.9,"y":0,"l":0,"u":0},
      {"m":"NB","h":0.1,"y":0,"l":0,"u":0},{"m":"NB","h":0.12,"y":0,"l":0,"u":0},{"m":"NB","h":0.14,"y":0,"l":0,"u":0},{"m":"NB","h":0.16,"y":0,"l":0,"u":0},{"m":"NB","h":0.18,"y":0,"l":0,"u":0},{"m":"NB","h":0.2,"y":0,"l":0,"u":0},{"m":"NB","h":0.22,"y":0,"l":0,"u":0},{"m":"NB","h":0.24,"y":0,"l":0,"u":0},{"m":"NB","h":0.26,"y":0,"l":0,"u":0},{"m":"NB","h":0.28,"y":0,"l":0,"u":0},{"m":"NB","h":0.3,"y":0,"l":0,"u":0},{"m":"NB","h":0.32,"y":0,"l":0,"u":0},{"m":"NB","h":0.34,"y":0,"l":0,"u":0},{"m":"NB","h":0.36,"y":0,"l":0,"u":0},{"m":"NB","h":0.38,"y":0,"l":0,"u":0},{"m":"NB","h":0.4,"y":0,"l":0,"u":0.165},{"m":"NB","h":0.42,"y":0,"l":0,"u":0},{"m":"NB","h":0.44,"y":0,"l":0,"u":0},{"m":"NB","h":0.46,"y":0,"l":0,"u":0.16},{"m":"NB","h":0.48,"y":0,"l":0,"u":0},{"m":"NB","h":0.5,"y":0,"l":0,"u":0},{"m":"NB","h":0.52,"y":0,"l":0,"u":0},{"m":"NB","h":0.54,"y":0,"l":0,"u":0},{"m":"NB","h":0.56,"y":0,"l":0,"u":0},{"m":"NB","h":0.58,"y":0,"l":0,"u":0},{"m":"NB","h":0.6,"y":0,"l":0,"u":0},{"m":"NB","h":0.62,"y":0,"l":0,"u":0},{"m":"NB","h":0.64,"y":0,"l":0,"u":0},{"m":"NB","h":0.66,"y":0,"l":0,"u":0},{"m":"NB","h":0.68,"y":0,"l":0,"u":0},{"m":"NB","h":0.7,"y":0,"l":0,"u":0},{"m":"NB","h":0.72,"y":0,"l":0,"u":0},{"m":"NB","h":0.74,"y":0,"l":0,"u":0},{"m":"NB","h":0.76,"y":0,"l":0,"u":0},{"m":"NB","h":0.78,"y":0,"l":0,"u":0},{"m":"NB","h":0.8,"y":0,"l":0,"u":0},{"m":"NB","h":0.82,"y":0.07,"l":0.065,"u":0.075},{"m":"NB","h":0.84,"y":0.07,"l":0.065,"u":0.075},{"m":"NB","h":0.86,"y":0,"l":0,"u":0},{"m":"NB","h":0.88,"y":0,"l":0,"u":0},{"m":"NB","h":0.9,"y":0,"l":0,"u":0},
      {"m":"KNN","h":0.1,"y":0.065,"l":0.065,"u":0.065},{"m":"KNN","h":0.12,"y":0,"l":0,"u":0},{"m":"KNN","h":0.14,"y":0.13,"l":0.13,"u":0.13},{"m":"KNN","h":0.16,"y":0,"l":0,"u":0},{"m":"KNN","h":0.18,"y":0,"l":0,"u":0},{"m":"KNN","h":0.2,"y":0.085,"l":0.085,"u":0.085},{"m":"KNN","h":0.22,"y":0,"l":0,"u":0},{"m":"KNN","h":0.24,"y":0,"l":0,"u":0},{"m":"KNN","h":0.26,"y":0.21,"l":0,"u":0.52},{"m":"KNN","h":0.28,"y":0.215,"l":0,"u":0.515},{"m":"KNN","h":0.3,"y":0.213,"l":0,"u":0.515},{"m":"KNN","h":0.32,"y":0.30,"l":0,"u":0.69},{"m":"KNN","h":0.34,"y":0.31,"l":0,"u":0.705},{"m":"KNN","h":0.36,"y":0.37,"l":0,"u":0.71},{"m":"KNN","h":0.38,"y":0.32,"l":0,"u":0.685},{"m":"KNN","h":0.4,"y":0.545,"l":0,"u":0.80},{"m":"KNN","h":0.42,"y":0.46,"l":0,"u":0.80},{"m":"KNN","h":0.44,"y":0.45,"l":0,"u":0.765},{"m":"KNN","h":0.46,"y":0.52,"l":0,"u":0.765},{"m":"KNN","h":0.48,"y":0.445,"l":0,"u":0.79},{"m":"KNN","h":0.5,"y":0.435,"l":0,"u":0.735},{"m":"KNN","h":0.52,"y":0.43,"l":0,"u":0.69},{"m":"KNN","h":0.54,"y":0.235,"l":0,"u":0.53},{"m":"KNN","h":0.56,"y":0.16,"l":0.16,"u":0.16},{"m":"KNN","h":0.58,"y":0.16,"l":0.16,"u":0.16},{"m":"KNN","h":0.6,"y":0.145,"l":0.145,"u":0.145},{"m":"KNN","h":0.62,"y":0.17,"l":0.17,"u":0.17},{"m":"KNN","h":0.64,"y":0.235,"l":0,"u":0.485},{"m":"KNN","h":0.66,"y":0.23,"l":0,"u":0.455},{"m":"KNN","h":0.68,"y":0.215,"l":0,"u":0.455},{"m":"KNN","h":0.7,"y":0.125,"l":0.125,"u":0.125},{"m":"KNN","h":0.72,"y":0.335,"l":0,"u":0.66},{"m":"KNN","h":0.74,"y":0.38,"l":0,"u":0.72},{"m":"KNN","h":0.76,"y":0.36,"l":0,"u":0.695},{"m":"KNN","h":0.78,"y":0.325,"l":0,"u":0.64},{"m":"KNN","h":0.8,"y":0.195,"l":0,"u":0.455},{"m":"KNN","h":0.82,"y":0.195,"l":0,"u":0.415},{"m":"KNN","h":0.84,"y":0.14,"l":0.14,"u":0.14},{"m":"KNN","h":0.86,"y":0.06,"l":0.06,"u":0.06},{"m":"KNN","h":0.88,"y":0,"l":0,"u":0},{"m":"KNN","h":0.9,"y":0.065,"l":0.065,"u":0.065},
      {"m":"DT","h":0.1,"y":0,"l":0,"u":0},{"m":"DT","h":0.12,"y":0.03,"l":0,"u":0.06},{"m":"DT","h":0.14,"y":0.13,"l":0,"u":0.25},{"m":"DT","h":0.16,"y":0,"l":0,"u":0},{"m":"DT","h":0.18,"y":0.215,"l":0,"u":0.51},{"m":"DT","h":0.2,"y":0.14,"l":0,"u":0.30},{"m":"DT","h":0.22,"y":0.065,"l":0,"u":0.13},{"m":"DT","h":0.24,"y":0,"l":0,"u":0},{"m":"DT","h":0.26,"y":0.065,"l":0,"u":0.13},{"m":"DT","h":0.28,"y":0,"l":0,"u":0},{"m":"DT","h":0.3,"y":0.06,"l":0,"u":0.13},{"m":"DT","h":0.32,"y":0.14,"l":0,"u":0.45},{"m":"DT","h":0.34,"y":0.265,"l":0,"u":0.635},{"m":"DT","h":0.36,"y":0.14,"l":0,"u":0.50},{"m":"DT","h":0.38,"y":0.275,"l":0,"u":0.63},{"m":"DT","h":0.4,"y":0.205,"l":0,"u":0.50},{"m":"DT","h":0.42,"y":0.12,"l":0,"u":0.44},{"m":"DT","h":0.44,"y":0.19,"l":0,"u":0.48},{"m":"DT","h":0.46,"y":0.20,"l":0,"u":0.50},{"m":"DT","h":0.48,"y":0.07,"l":0,"u":0.45},{"m":"DT","h":0.5,"y":0.07,"l":0,"u":0.42},{"m":"DT","h":0.52,"y":0.06,"l":0,"u":0.45},{"m":"DT","h":0.54,"y":0.24,"l":0,"u":0.535},{"m":"DT","h":0.56,"y":0.09,"l":0,"u":0.25},{"m":"DT","h":0.58,"y":0.085,"l":0,"u":0.20},{"m":"DT","h":0.6,"y":0.16,"l":0,"u":0.35},{"m":"DT","h":0.62,"y":0,"l":0,"u":0},{"m":"DT","h":0.64,"y":0.07,"l":0,"u":0.15},{"m":"DT","h":0.66,"y":0.07,"l":0,"u":0.15},{"m":"DT","h":0.68,"y":0,"l":0,"u":0},{"m":"DT","h":0.7,"y":0,"l":0,"u":0},{"m":"DT","h":0.72,"y":0,"l":0,"u":0},{"m":"DT","h":0.74,"y":0.055,"l":0,"u":0.12},{"m":"DT","h":0.76,"y":0.11,"l":0,"u":0.22},{"m":"DT","h":0.78,"y":0.115,"l":0,"u":0.24},{"m":"DT","h":0.8,"y":0,"l":0,"u":0},{"m":"DT","h":0.82,"y":0,"l":0,"u":0},{"m":"DT","h":0.84,"y":0.20,"l":0,"u":0.465},{"m":"DT","h":0.86,"y":0.145,"l":0,"u":0.30},{"m":"DT","h":0.88,"y":0.06,"l":0,"u":0.13},{"m":"DT","h":0.9,"y":0.125,"l":0,"u":0.25},
      {"m":"RF","h":0.1,"y":0,"l":0,"u":0},{"m":"RF","h":0.12,"y":0,"l":0,"u":0},{"m":"RF","h":0.14,"y":0,"l":0,"u":0},{"m":"RF","h":0.16,"y":0,"l":0,"u":0},{"m":"RF","h":0.18,"y":0,"l":0,"u":0},{"m":"RF","h":0.2,"y":0,"l":0,"u":0},{"m":"RF","h":0.22,"y":0,"l":0,"u":0},{"m":"RF","h":0.24,"y":0,"l":0,"u":0},{"m":"RF","h":0.26,"y":0.065,"l":0,"u":0.15},{"m":"RF","h":0.28,"y":0,"l":0,"u":0},{"m":"RF","h":0.3,"y":0.065,"l":0,"u":0.15},{"m":"RF","h":0.32,"y":0,"l":0,"u":0},{"m":"RF","h":0.34,"y":0.07,"l":0,"u":0.16},{"m":"RF","h":0.36,"y":0,"l":0,"u":0},{"m":"RF","h":0.38,"y":0.065,"l":0,"u":0.15},{"m":"RF","h":0.4,"y":0.055,"l":0,"u":0.13},{"m":"RF","h":0.42,"y":0.125,"l":0,"u":0.30},{"m":"RF","h":0.44,"y":0.07,"l":0,"u":0.16},{"m":"RF","h":0.46,"y":0.065,"l":0,"u":0.15},{"m":"RF","h":0.48,"y":0.07,"l":0,"u":0.16},{"m":"RF","h":0.5,"y":0,"l":0,"u":0},{"m":"RF","h":0.52,"y":0.065,"l":0,"u":0.15},{"m":"RF","h":0.54,"y":0,"l":0,"u":0},{"m":"RF","h":0.56,"y":0,"l":0,"u":0},{"m":"RF","h":0.58,"y":0,"l":0,"u":0},{"m":"RF","h":0.6,"y":0,"l":0,"u":0},{"m":"RF","h":0.62,"y":0.125,"l":0,"u":0.28},{"m":"RF","h":0.64,"y":0.09,"l":0,"u":0.20},{"m":"RF","h":0.66,"y":0.07,"l":0,"u":0.16},{"m":"RF","h":0.68,"y":0,"l":0,"u":0},{"m":"RF","h":0.7,"y":0.065,"l":0,"u":0.15},{"m":"RF","h":0.72,"y":0,"l":0,"u":0},{"m":"RF","h":0.74,"y":0.05,"l":0,"u":0.12},{"m":"RF","h":0.76,"y":0.11,"l":0,"u":0.25},{"m":"RF","h":0.78,"y":0.06,"l":0,"u":0.14},{"m":"RF","h":0.8,"y":0.125,"l":0,"u":0.28},{"m":"RF","h":0.82,"y":0,"l":0,"u":0},{"m":"RF","h":0.84,"y":0.065,"l":0,"u":0.15},{"m":"RF","h":0.86,"y":0.095,"l":0,"u":0.20},{"m":"RF","h":0.88,"y":0.05,"l":0,"u":0.12},{"m":"RF","h":0.9,"y":0.05,"l":0,"u":0.12}
    ]
  },
  "concat": [
    {
      "width": 528,
      "height": 392,
      "title": {"text": "Accuracy over height", "offset": -4.5},
      "data": {"name": "acc"},
      "layer": [
        {
          "mark": {"type": "area", "clip": true, "fillOpacity": 0.2, "strokeOpacity": 0.25, "strokeWidth": 1},
          "encoding": {
            "x": {"field": "h", "type": "quantitative", "scale": {"domain": [0.06, 0.94], "nice": false, "zero": false}, "axis": {"values": [0.2, 0.4, 0.6, 0.8], "format": ".1f", "title": "Height h"}},
            "y": {"field": "l", "type": "quantitative", "scale": {"domain": [0.657, 0.9527], "nice": false, "zero": false}, "axis": {"values": [0.7, 0.75, 0.8, 0.85, 0.9, 0.95], "format": ".2f", "title": "Accuracy"}},
            "y2": {"field": "u"},
            "fill": {"field": "m", "type": "nominal", "scale": {"domain": ["SVM", "LDA", "NB", "KNN", "DT", "RF"], "range": ["#16a08a", "#3f5ba8", "#a9a9b8", "#41434f", "#a8c0fa", "#7c97e8"]}, "legend": null},
            "stroke": {"field": "m", "type": "nominal", "scale": {"domain": ["SVM", "LDA", "NB", "KNN", "DT", "RF"], "range": ["#16a08a", "#3f5ba8", "#a9a9b8", "#41434f", "#a8c0fa", "#7c97e8"]}, "legend": null}
          }
        },
        {
          "mark": {"type": "line", "clip": true, "strokeWidth": 2.2, "strokeJoin": "round"},
          "encoding": {
            "x": {"field": "h", "type": "quantitative"},
            "y": {"field": "y", "type": "quantitative", "axis": {"values": [0.7, 0.75, 0.8, 0.85, 0.9, 0.95], "format": ".2f", "title": "Accuracy"}},
            "color": {"field": "m", "type": "nominal", "title": null, "scale": {"domain": ["SVM", "LDA", "NB", "KNN", "DT", "RF"], "range": ["#16a08a", "#3f5ba8", "#a9a9b8", "#41434f", "#a8c0fa", "#7c97e8"]}, "legend": {"orient": "none", "legendX": 200.7, "legendY": 180}}
          }
        }
      ]
    },
    {
      "width": 551,
      "height": 402,
      "title": {"text": "Macro F1 score over height", "offset": 4.5},
      "data": {"name": "f1"},
      "layer": [
        {
          "mark": {"type": "area", "clip": true, "fillOpacity": 0.2, "strokeOpacity": 0.25, "strokeWidth": 1},
          "encoding": {
            "x": {"field": "h", "type": "quantitative", "scale": {"domain": [0.0598, 0.959], "nice": false, "zero": false}, "axis": {"values": [0.2, 0.4, 0.6, 0.8], "format": ".1f", "title": "Height h"}},
            "y": {"field": "l", "type": "quantitative", "scale": {"domain": [0.354, 0.891], "nice": false, "zero": false}, "axis": {"values": [0.4, 0.5, 0.6, 0.7, 0.8], "format": ".1f", "title": "Macro F1 score"}},
            "y2": {"field": "u"},
            "fill": {"field": "m", "type": "nominal", "scale": {"domain": ["SVM", "LDA", "NB", "KNN", "DT", "RF"], "range": ["#16a08a", "#3f5ba8", "#a9a9b8", "#41434f", "#a8c0fa", "#7c97e8"]}, "legend": null},
            "stroke": {"field": "m", "type": "nominal", "scale": {"domain": ["SVM", "LDA", "NB", "KNN", "DT", "RF"], "range": ["#16a08a", "#3f5ba8", "#a9a9b8", "#41434f", "#a8c0fa", "#7c97e8"]}, "legend": null}
          }
        },
        {
          "mark": {"type": "line", "clip": true, "strokeWidth": 2.2, "strokeJoin": "round"},
          "encoding": {
            "x": {"field": "h", "type": "quantitative"},
            "y": {"field": "y", "type": "quantitative", "axis": {"values": [0.4, 0.5, 0.6, 0.7, 0.8], "format": ".1f", "title": "Macro F1 score"}},
            "color": {"field": "m", "type": "nominal", "title": null, "scale": {"domain": ["SVM", "LDA", "NB", "KNN", "DT", "RF"], "range": ["#16a08a", "#3f5ba8", "#a9a9b8", "#41434f", "#a8c0fa", "#7c97e8"]}, "legend": {"orient": "none", "legendX": 397.3, "legendY": 11.6}}
          }
        }
      ]
    },
    {
      "width": 551,
      "height": 402,
      "title": {"text": "G-mean over height", "offset": 4.5},
      "data": {"name": "gm"},
      "layer": [
        {
          "mark": {"type": "area", "clip": true, "fillOpacity": 0.2, "strokeOpacity": 0.25, "strokeWidth": 1},
          "encoding": {
            "x": {"field": "h", "type": "quantitative", "scale": {"domain": [0.0598, 0.959], "nice": false, "zero": false}, "axis": {"values": [0.2, 0.4, 0.6, 0.8], "format": ".1f", "title": "Height h"}},
            "y": {"field": "l", "type": "quantitative", "scale": {"domain": [-0.0404, 0.843], "nice": false, "zero": false}, "axis": {"values": [0, 0.2, 0.4, 0.6, 0.8], "format": ".1f", "title": "G-mean"}},
            "y2": {"field": "u"},
            "fill": {"field": "m", "type": "nominal", "scale": {"domain": ["SVM", "LDA", "NB", "KNN", "DT", "RF"], "range": ["#16a08a", "#3f5ba8", "#a9a9b8", "#41434f", "#a8c0fa", "#7c97e8"]}, "legend": null},
            "stroke": {"field": "m", "type": "nominal", "scale": {"domain": ["SVM", "LDA", "NB", "KNN", "DT", "RF"], "range": ["#16a08a", "#3f5ba8", "#a9a9b8", "#41434f", "#a8c0fa", "#7c97e8"]}, "legend": null}
          }
        },
        {
          "mark": {"type": "line", "clip": true, "strokeWidth": 2.2, "strokeJoin": "round"},
          "encoding": {
            "x": {"field": "h", "type": "quantitative"},
            "y": {"field": "y", "type": "quantitative", "axis": {"values": [0, 0.2, 0.4, 0.6, 0.8], "format": ".1f", "title": "G-mean"}},
            "color": {"field": "m", "type": "nominal", "title": null, "scale": {"domain": ["SVM", "LDA", "NB", "KNN", "DT", "RF"], "range": ["#16a08a", "#3f5ba8", "#a9a9b8", "#41434f", "#a8c0fa", "#7c97e8"]}, "legend": {"orient": "none", "legendX": 11.7, "legendY": 11.6}}
          }
        }
      ]
    }
  ],
  "resolve": {
    "scale": {"x": "independent", "y": "independent", "color": "independent"},
    "legend": {"color": "independent"}
  },
  "config": {
    "font": "DejaVu Sans",
    "view": {"stroke": "#262626", "strokeWidth": 1.3},
    "axis": {
      "labelFont": "DejaVu Sans",
      "titleFont": "DejaVu Sans",
      "labelFontSize": 22,
      "titleFontSize": 22,
      "titleFontWeight": "normal",
      "labelColor": "#000000",
      "titleColor": "#000000",
      "domain": false,
      "tickColor": "#222222",
      "tickWidth": 1.2,
      "grid": false,
      "labelFlush": false,
      "labelOverlap": false
    },
    "axisX": {"tickSize": 5, "labelPadding": 5, "titlePadding": 5},
    "axisY": {"tickSize": 6, "labelPadding": 4, "titlePadding": 9},
    "title": {"font": "DejaVu Sans", "fontSize": 26, "fontWeight": "normal", "color": "#000000", "baseline": "alphabetic", "anchor": "middle"},
    "legend": {
      "labelFont": "DejaVu Sans",
      "labelFontSize": 22,
      "labelColor": "#000000",
      "labelLimit": 300,
      "symbolType": "M-5,0H5",
      "symbolSize": 91,
      "symbolStrokeWidth": 2.2,
      "symbolOffset": 12.4,
      "labelOffset": 29,
      "rowPadding": 11,
      "padding": 8,
      "strokeColor": "#cccccc",
      "fillColor": "rgba(255,255,255,0.8)",
      "cornerRadius": 4
    }
  }
}
